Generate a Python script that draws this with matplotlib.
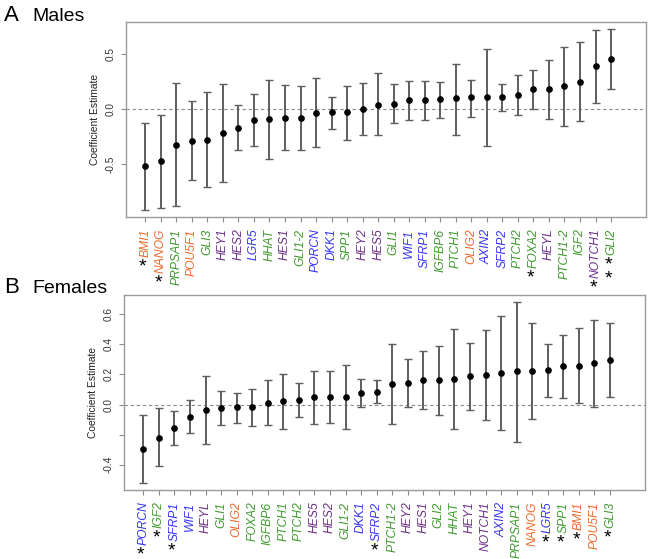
import matplotlib
matplotlib.use("Agg")
import matplotlib.pyplot as plt
import numpy as np

plt.rcParams['font.family'] = ['Liberation Sans', 'DejaVu Sans']

# gene -> pathway colour group
orange_genes = ["BMI1", "NANOG", "POU5F1", "OLIG2"]
green_genes = ["PRPSAP1", "GLI3", "HHAT", "GLI1-2", "SPP1", "GLI1", "IGFBP6", "PTCH1",
               "PTCH2", "FOXA2", "PTCH1-2", "IGF2", "GLI2"]
purple_genes = ["HEY1", "HES2", "HES1", "HEY2", "HES5", "HEYL", "NOTCH1"]
blue_genes = ["LGR5", "PORCN", "DKK1", "WIF1", "SFRP1", "AXIN2", "SFRP2"]

# Males
male_genes = ["BMI1", "NANOG", "PRPSAP1", "POU5F1", "GLI3", "HEY1", "HES2", "LGR5", "HHAT",
              "HES1", "GLI1-2", "PORCN", "DKK1", "SPP1", "HEY2", "HES5", "GLI1", "WIF1",
              "SFRP1", "IGFBP6", "PTCH1", "OLIG2", "AXIN2", "SFRP2", "PTCH2", "FOXA2",
              "HEYL", "PTCH1-2", "IGF2", "NOTCH1", "GLI2"]
male_est = [-0.52, -0.47, -0.33, -0.29, -0.28, -0.22, -0.17, -0.10, -0.09, -0.08, -0.08,
            -0.04, -0.03, -0.03, 0.00, 0.04, 0.05, 0.08, 0.08, 0.09, 0.10, 0.11, 0.11,
            0.11, 0.13, 0.18, 0.18, 0.21, 0.25, 0.39, 0.46]
male_lo = [-0.92, -0.90, -0.89, -0.65, -0.71, -0.67, -0.37, -0.34, -0.46, -0.37, -0.37,
           -0.35, -0.18, -0.28, -0.24, -0.24, -0.13, -0.10, -0.10, -0.08, -0.24, -0.07,
           -0.34, -0.02, -0.05, 0.00, -0.09, -0.15, -0.11, 0.06, 0.18]
male_hi = [-0.13, -0.05, 0.24, 0.07, 0.16, 0.23, 0.04, 0.14, 0.27, 0.22, 0.21, 0.28,
           0.11, 0.21, 0.24, 0.33, 0.23, 0.26, 0.26, 0.25, 0.41, 0.27, 0.55, 0.23, 0.31,
           0.36, 0.45, 0.57, 0.61, 0.72, 0.73]
male_stars = {"BMI1": 1, "NANOG": 1, "FOXA2": 1, "NOTCH1": 1, "GLI2": 2}

# Females
female_genes = ["PORCN", "IGF2", "SFRP1", "WIF1", "HEYL", "GLI1", "OLIG2", "FOXA2", "IGFBP6",
                "PTCH1", "PTCH2", "HES5", "HES2", "GLI1-2", "DKK1", "SFRP2", "PTCH1-2", "HEY2",
                "HES1", "GLI2", "HHAT", "HEY1", "NOTCH1", "AXIN2", "PRPSAP1", "NANOG", "LGR5",
                "SPP1", "BMI1", "POU5F1", "GLI3"]
female_est = [-0.295, -0.22, -0.155, -0.08, -0.035, -0.02, -0.018, -0.015, 0.01, 0.025,
              0.03, 0.05, 0.053, 0.053, 0.078, 0.084, 0.135, 0.14, 0.165, 0.165, 0.173,
              0.19, 0.197, 0.21, 0.22, 0.226, 0.228, 0.253, 0.257, 0.275, 0.297]
female_lo = [-0.52, -0.41, -0.27, -0.19, -0.26, -0.135, -0.125, -0.14, -0.135, -0.16,
             -0.085, -0.13, -0.12, -0.16, -0.018, 0.007, -0.13, -0.018, -0.03, -0.07,
             -0.16, -0.035, -0.10, -0.17, -0.25, -0.093, 0.05, 0.042, 0.007, -0.018, 0.049]
female_hi = [-0.07, -0.025, -0.04, 0.03, 0.19, 0.09, 0.08, 0.10, 0.16, 0.205, 0.14, 0.225,
             0.225, 0.265, 0.17, 0.16, 0.40, 0.30, 0.355, 0.39, 0.50, 0.41, 0.495, 0.59,
             0.68, 0.54, 0.40, 0.46, 0.51, 0.565, 0.543]
female_stars = {"PORCN": 1, "IGF2": 1, "SFRP1": 1, "SFRP2": 1, "LGR5": 1, "SPP1": 1,
                "BMI1": 1, "GLI3": 1}

DPI = 100
W, H = 649, 559
STAR_SIZE = 14


def gene_color(g):
    if g in orange_genes:
        return "#EE6A2C"
    if g in green_genes:
        return "#3E9A2C"
    if g in purple_genes:
        return "#6B2F86"
    return "#3535EE"


def draw_panel(ax, genes, est, lo, hi, stars, yticks, yticklabels):
    """Error-bar panel; returns the gene label texts that need asterisks."""
    est = np.array(est)
    lo = np.array(lo)
    hi = np.array(hi)
    x = np.arange(1, len(genes) + 1)
    ax.axhline(0, color="#8a8a8a", ls=(0, (3, 2.5)), lw=0.8, zorder=1)
    ax.errorbar(x, est, yerr=[est - lo, hi - est], fmt="o", color="black", ms=3.8,
                ecolor="#5e5e5e", elinewidth=1.4, capsize=2.6, capthick=1.0, zorder=3)
    pad = 0.04 * (hi.max() - lo.min())
    ax.set_ylim(lo.min() - pad, hi.max() + pad)
    ax.set_xlim(1 - 1.24, len(genes) + 2.25)

    for s in ax.spines.values():
        s.set_color("#9a9a9a")
        s.set_linewidth(1.0)
    ax.set_xticks(x)
    ax.set_xticklabels([""] * len(genes))
    ax.tick_params(axis="x", length=3.6, color="#8a8a8a", width=0.8)
    ax.set_yticks(yticks)
    ax.set_yticklabels(yticklabels, rotation=90, va="center", fontsize=7.2, color="#333333")
    ax.tick_params(axis="y", length=3.6, color="#8a8a8a", width=0.8, pad=4)
    ax.set_ylabel("Coefficient Estimate", fontsize=7.4, color="#222222", labelpad=4)

    starred = []
    for xi, g in zip(x, genes):
        t = ax.annotate(g, xy=(xi, 0), xycoords=("data", "axes fraction"),
                        xytext=(0, -8.3), textcoords="offset points", rotation=90,
                        ha="center", va="top", fontsize=8.7, fontstyle="italic",
                        color=gene_color(g))
        if g in stars:
            starred.append((t, stars[g]))
    return starred


fig = plt.figure(figsize=(W / DPI, H / DPI), dpi=DPI)
ax1 = fig.add_axes([126 / W, 1 - 217 / H, 520 / W, 195 / H])
ax2 = fig.add_axes([124 / W, 1 - 490 / H, 521 / W, 195 / H])

starred = draw_panel(ax1, male_genes, male_est, male_lo, male_hi, male_stars,
                     [-0.5, 0.0, 0.5], ["-0.5", "0.0", "0.5"])
starred += draw_panel(ax2, female_genes, female_est, female_lo, female_hi, female_stars,
                      [-0.4, -0.2, 0.0, 0.2, 0.4, 0.6], ["-0.4", "", "0.0", "0.2", "0.4", "0.6"])

fig.text(4 / W, 1 - 21 / H, "A", fontsize=16, va="baseline")
fig.text(32 / W, 1 - 21 / H, "Males", fontsize=14, va="baseline")
fig.text(4 / W, 1 - 293 / H, "B", fontsize=16, va="baseline")
fig.text(32 / W, 1 - 293 / H, "Females", fontsize=14, va="baseline")

# asterisks go just below the end of each marked gene label, in black
fig.canvas.draw()
renderer = fig.canvas.get_renderer()
for t, n in starred:
    bb = t.get_window_extent(renderer)
    xc = (bb.x0 + bb.x1) / 2 - 2.5
    top = bb.y0 - 1.5
    fig.text(xc / W, top / H, "\n".join(["*"] * n), ha="center", va="top",
             fontsize=STAR_SIZE, linespacing=0.75, color="black")

fig.savefig("out.png", dpi=DPI)
